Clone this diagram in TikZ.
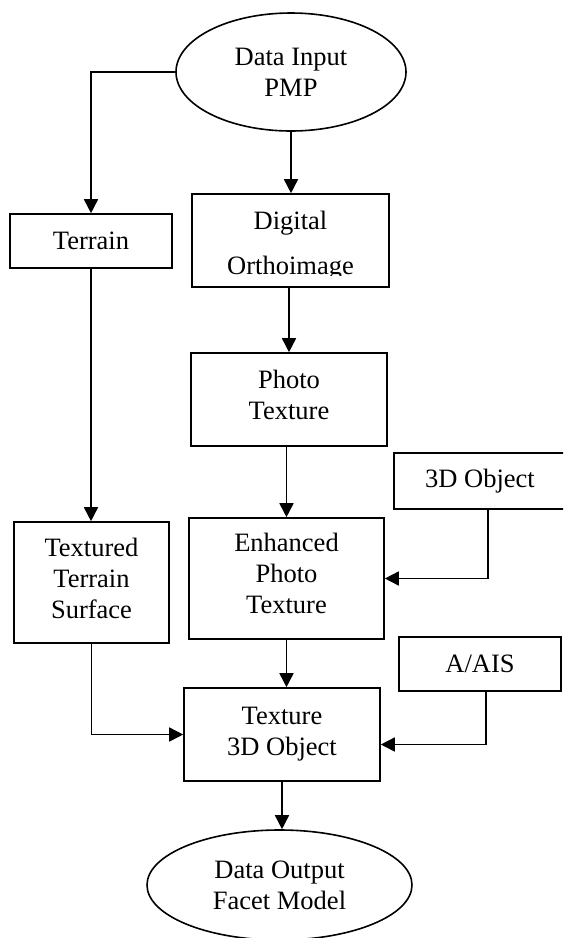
\documentclass[tikz,border=0pt]{standalone}
\usepackage{fontspec}
\setmainfont{Liberation Serif}
\usetikzlibrary{shapes.geometric,arrows.meta}
\newcommand\lowpad[1]{\rule[-#1]{0pt}{#1}}
\begin{document}
\begin{tikzpicture}[x=1pt,y=-1pt,
  every node/.style={font=\fontsize{26.5}{31}\selectfont, align=center, inner sep=0pt},
  boxx/.style={draw, line width=1.6pt, rectangle},
  ell/.style={draw, line width=1.6pt, ellipse},
  arr/.style={line width=1.6pt, -{Triangle[length=14pt,width=14pt]}}]
\useasboundingbox (0,0) rectangle (563,938);
\begin{scope}[even odd rule]
\clip (0,0) rectangle (563,938) (193.5,275) rectangle (387.5,286.1);
\begin{scope}[nonzero rule]
% nodes
\node[ell, minimum width=230pt, minimum height=118pt] (in) at (291,72) {Data Input\\PMP};
\node[boxx, minimum width=162pt, minimum height=54pt] (terrain) at (91,241) {Terrain};
\node[boxx, minimum width=197pt, minimum height=93pt] (digital) at (290.5,240.5) {\rule{0pt}{28pt}Digital\\[14pt]Orthoimage};
\node[boxx, minimum width=196pt, minimum height=93pt] (photo) at (289,399.5) {Photo\\Texture\lowpad{10pt}};
\node[boxx, minimum width=172pt, minimum height=56pt] (obj3d) at (480,481) {3D Object};
\node[boxx, minimum width=195pt, minimum height=121pt] (enh) at (286.5,578.5) {Enhanced\\Photo\\Texture\lowpad{10pt}};
\node[boxx, minimum width=155pt, minimum height=121pt] (ttsurf) at (91.5,582.5) {Textured\\Terrain\\Surface\lowpad{9pt}};
\node[boxx, minimum width=162pt, minimum height=54pt] (aais) at (480,664) {A/AIS};
\node[boxx, minimum width=196pt, minimum height=93pt] (tex3d) at (282,734.5) {Texture\\3D Object};
\node[ell, minimum width=265pt, minimum height=110pt] (out) at (279.5,885) {Data Output\\Facet Model};
% connectors
\draw[arr] (in.west) -| (terrain.north);
\draw[arr] (in.south) -- (in.south |- digital.north);
\draw[arr] (photo.north |- digital.south) -- (photo.north);
\draw[arr] (enh.north |- photo.south) -- (enh.north);
\draw[arr] (terrain.south) -- (terrain.south |- ttsurf.north);
\draw[arr] ([xshift=8pt]obj3d.south) |- (enh.east);
\draw[arr] (enh.south) -- (enh.south |- tex3d.north);
\draw[arr] (ttsurf.south) |- (tex3d.west);
\draw[arr] ([xshift=6pt]aais.south) |- ([yshift=-10pt]tex3d.east);
\draw[arr] (tex3d.south) -- (tex3d.south |- out.north);
\end{scope}
\end{scope}
\end{tikzpicture}
\end{document}
